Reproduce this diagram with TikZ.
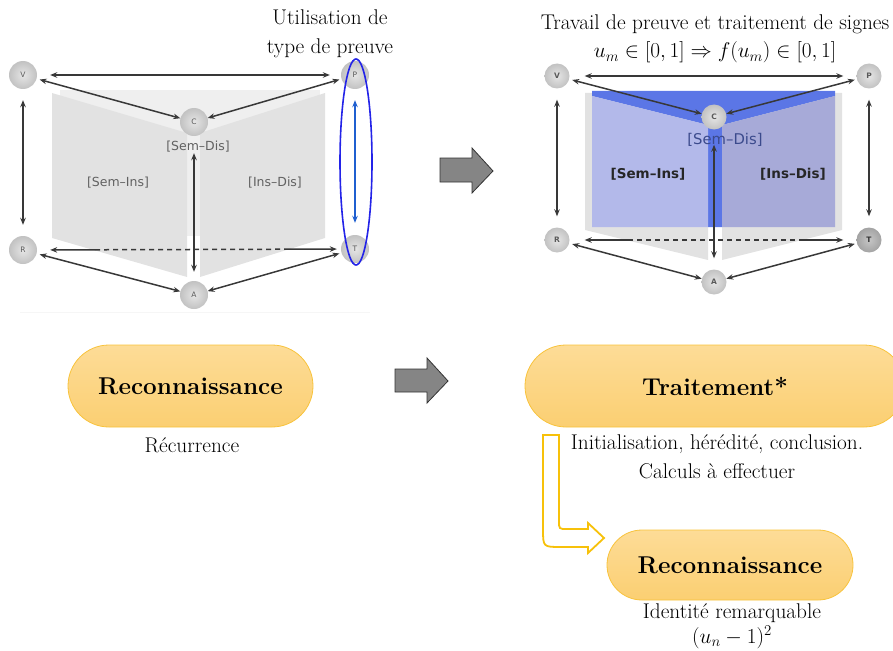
\RequirePackage{fix-cm}
\documentclass[tikz,border=0pt]{standalone}
\usepackage{fontspec}
\newfontfamily\labfont{DejaVu Sans}
\usetikzlibrary{arrows.meta,shapes.misc,calc}
\definecolor{arrcol}{HTML}{383838}
\definecolor{pagelight}{HTML}{EFEFEF}
\definecolor{pagegray}{HTML}{E2E2E2}
\definecolor{bluedark}{HTML}{5B76E6}
\definecolor{bluelight}{HTML}{B3B9EA}
\definecolor{bluegrey}{HTML}{A7AAD8}
\definecolor{ellblue}{HTML}{2323E8}
\definecolor{arrblue}{HTML}{1F5FD0}
\definecolor{boxtop}{HTML}{FDDC97}
\definecolor{boxbot}{HTML}{FBCF72}
\definecolor{boxborder}{HTML}{F8C33C}
\definecolor{yellowline}{HTML}{F7C10A}
\definecolor{blockgray}{HTML}{858585}
\definecolor{semdisblue}{HTML}{3B4A8C}
\begin{document}
\begin{tikzpicture}[x=1pt,y=-1pt,
  sph/.style={circle, inner sep=0pt, minimum size=28pt, inner color=gray!20, outer color=gray!48,
    font=\labfont\fontsize{7.5}{9}\selectfont, text=black!65},
  sphR/.style={sph, minimum size=25pt, font=\labfont\bfseries\fontsize{7.5}{9}\selectfont},
  sphdark/.style={sphR, inner color=gray!45, outer color=gray!72, text=black!80},
  arr/.style={draw=arrcol, line width=1.5pt, {Stealth[length=7pt,width=5.5pt]}-{Stealth[length=7pt,width=5.5pt]}},
  arrL/.style={draw=arrcol, line width=1.5pt, {Stealth[length=7pt,width=5.5pt]}-},
  arrRt/.style={draw=arrcol, line width=1.5pt, -{Stealth[length=7pt,width=5.5pt]}},
  dsh/.style={draw=arrcol, line width=1.5pt, dash pattern=on 5pt off 4pt},
  labL/.style={font=\labfont\fontsize{12.5}{15}\selectfont, text=black!62, inner sep=0pt},
  labR/.style={font=\labfont\bfseries\fontsize{13.5}{16}\selectfont, text=black!85, inner sep=0pt},
  captxt/.style={font=\fontsize{21.3}{28.5}\selectfont, align=center, inner sep=0pt},
  pill/.style={rounded rectangle, draw=boxborder, line width=0.8pt, top color=boxtop, bottom color=boxbot,
    font=\fontsize{24.3}{29}\selectfont\bfseries, minimum height=82pt, inner sep=0pt},
  blockarrow/.style={fill=blockgray, draw=black!80, line width=0.8pt},
  hollowarrow/.style={draw=yellowline, line width=1.8pt, fill=white}
]
\useasboundingbox (0,0) rectangle (893,650);
\clip (0,0) rectangle (893,650);

% ---------- left diagram ----------
\draw[gray!7, line width=1pt] (20,312) -- (370,312);
\fill[pagelight] (60,90) rectangle (320,236);
\fill[pagegray] (52,93) -- (187,133) -- (187,277) -- (52,238) -- cycle;
\fill[pagegray] (200,133) -- (325,93) -- (325,238) -- (200,277) -- cycle;

\node[labL] (lsd) at (198,147) {[Sem–Dis]};
\node[labL] (lsi) at (118,183) {[Sem–Ins]};
\node[labL] (lid) at (275,183) {[Ins–Dis]};

\node[captxt] (lt) at (330,34) {Utilisation de\\type de preuve};

\node[sph] (V) at (23,75) {V};
\node[sph] (P) at (355,75) {P};
\node[sph] (C) at (194,122) {C};
\node[sph] (R) at (23,250) {R};
\node[sph] (T) at (355,249) {T};
\node[sph] (A) at (194,295) {A};

\draw[arr, shorten <=13pt, shorten >=11pt] (V) -- (P);
\draw[arr, shorten <=3pt] (V) -- (C);
\draw[arr, shorten >=2pt] (C) -- (P);
\draw[arr, shorten <=11pt, shorten >=11pt] (V) -- (R);
\draw[arr, shorten <=17pt, shorten >=9pt] (C) -- (A);
\draw[arr, shorten <=3pt] (R) -- (A);
\draw[arr, shorten >=2pt] (A) -- (T);
\coordinate (lrt1) at ($(R)!0.217!(T)$);
\coordinate (lrt2) at ($(R)!0.789!(T)$);
\draw[arrL, shorten <=13pt] (R) -- (lrt1);
\draw[dsh] (lrt1) -- (lrt2);
\draw[arrRt, shorten >=4pt] (lrt2) -- (T);
\draw[draw=arrblue, line width=1.5pt, {Stealth[length=7pt,width=5.5pt]}-{Stealth[length=7pt,width=5.5pt]}, shorten <=11pt, shorten >=12pt] (P) -- (T);
\draw[ellblue, line width=1.6pt] (356,162) ellipse [x radius=16, y radius=103];

% ---------- right diagram ----------
\fill[pagegray] (585,93) -- (708,93) -- (708,260) -- (585,230) -- cycle;
\fill[pagegray] (722,93) -- (842,93) -- (842,230) -- (722,260) -- cycle;
\fill[bluedark] (592,91) -- (835,91) -- (835,96) -- (722,125) -- (722,227) -- (708,227) -- (708,125) -- (592,96) -- cycle;
\fill[bluelight] (592,96) -- (708,125) -- (708,227) -- (592,227) -- cycle;
\fill[bluegrey] (722,125) -- (835,96) -- (835,227) -- (722,227) -- cycle;

\node[labR, text=semdisblue, font=\labfont\fontsize{14.8}{17}\selectfont] (rsd) at (725,140) {[Sem–Dis]};
\node[labR] (rsi) at (648,174) {[Sem–Ins]};
\node[labR] (rid) at (793,174) {[Ins–Dis]};

\node[captxt] (rt) at (715,39) {Travail de preuve et traitement de signes\\$u_m\in[0,1]\Rightarrow f(u_m)\in[0,1]$};

\node[sphR] (V2) at (557,76) {V};
\node[sphR] (P2) at (869,76) {P};
\node[sphR] (C2) at (714,117) {C};
\node[sphR] (R2) at (557,240) {R};
\node[sphdark] (T2) at (869,240) {T};
\node[sphR] (A2) at (714,282) {A};

\draw[arr, shorten <=15pt, shorten >=13pt] (V2) -- (P2);
\draw[arr, shorten <=3pt] (V2) -- (C2);
\draw[arr, shorten >=2pt] (C2) -- (P2);
\draw[arr, shorten <=11pt, shorten >=11pt] (V2) -- (R2);
\draw[arr, shorten <=11pt, shorten >=11pt] (P2) -- (T2);
\draw[arr, shorten <=15pt, shorten >=11pt] (C2) -- (A2);
\draw[arr, shorten <=3pt] (R2) -- (A2);
\draw[arr, shorten >=2pt] (A2) -- (T2);
\coordinate (rrt1) at ($(R2)!0.228!(T2)$);
\coordinate (rrt2) at ($(R2)!0.78!(T2)$);
\draw[arrL, shorten <=15pt] (R2) -- (rrt1);
\draw[dsh] (rrt1) -- (rrt2);
\draw[arrRt, shorten >=13pt] (rrt2) -- (T2);

% ---------- block arrows ----------
\draw[blockarrow] (440,158) -- (472,158) -- (472,148) -- (493,171) -- (472,193) -- (472,182) -- (440,182) -- cycle;
\draw[blockarrow] (395,369) -- (427,369) -- (427,358) -- (448,381) -- (427,403) -- (427,392) -- (395,392) -- cycle;

% ---------- bottom boxes ----------
\node[pill, minimum width=245pt] (rec1) at (190.5,386) {Reconnaissance};
\node[captxt] (rec1c) at (192,445) {Récurrence};

\node[pill, minimum width=380pt] (trt) at (715,386) {Traitement*};
\node[captxt] (trtc) at (717,457) {Initialisation, hérédité, conclusion.\\Calculs à effectuer};

\node[pill, minimum width=246pt, minimum height=70pt] (rec2) at (730,565) {Reconnaissance};
\node[captxt] (rec2c) at (732,626) {Identité remarquable\\[-4pt]$(u_n-1)^2$};

\draw[hollowarrow] (543,435) -- (559,435) -- (559,521) .. controls (559,529) .. (567,529) -- (588,529) -- (588,523) -- (604,538) -- (588,553) -- (588,547) -- (561,547) .. controls (543,547) .. (543,529) -- cycle;
\end{tikzpicture}
\end{document}
